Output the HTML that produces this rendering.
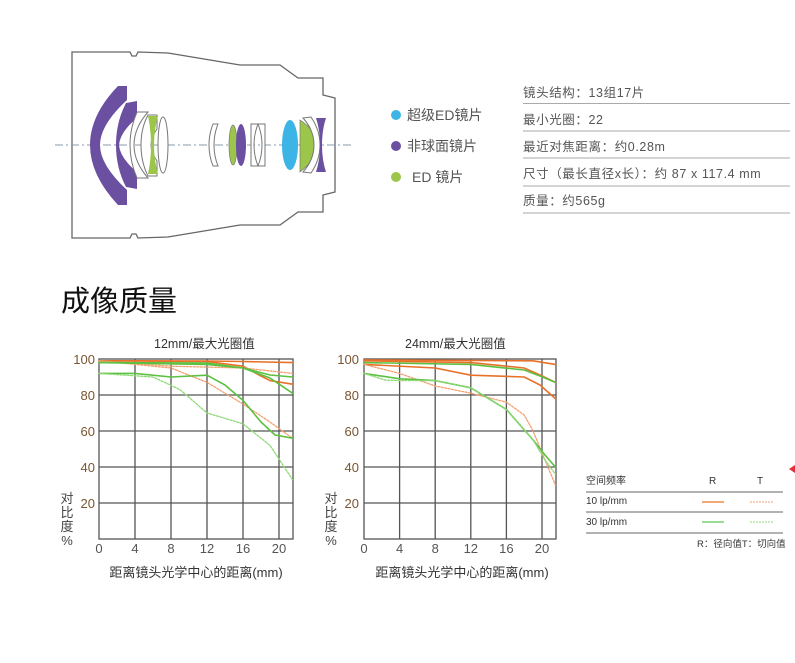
<!DOCTYPE html>
<html><head><meta charset="utf-8"><style>
html,body{margin:0;padding:0;background:#fff;}
svg{display:block;font-family:"Liberation Sans","Noto Sans CJK SC",sans-serif;}
</style></head><body>
<svg width="795" height="663" viewBox="0 0 795 663" xmlns="http://www.w3.org/2000/svg">
<rect width="795" height="663" fill="#fff"/>
<!-- lens body -->
<path d="M72,52 L130,52 L132,56 L136,56 L138,52 L168,53 L240,65 L280,65 L298,78 L323,78 L323,95 L335,98 L335,192 L323,195 L323,212 L298,212 L280,225 L240,225 L168,237 L138,238 L136,234 L132,234 L130,238 L72,238 Z" fill="#fff" stroke="#666" stroke-width="1.3"/>
<line x1="55" y1="145" x2="352" y2="145" stroke="#8a9aa8" stroke-width="1" stroke-dasharray="8,3,2,3"/>
<!-- front purple meniscus -->
<path d="M118,86 L127,86 L127,100 Q100,125 100,145 Q100,165 127,190 L127,205 L118,205 Q90,175 90,145 Q90,115 118,86 Z" fill="#6b4fa0"/>
<path d="M126,103 L137,101 L137,118 Q120,132 119,145 Q120,158 137,172 L137,189 L126,187 Q116,168 116,145 Q116,122 126,103 Z" fill="#6b4fa0"/>
<path d="M137,112 L148,112 Q134,128 134,145 Q134,162 148,178 L137,178 Q130,162 130,145 Q130,128 137,112 Z" fill="#fff" stroke="#777" stroke-width="1"/>
<path d="M148,115 L157,115 L157,129 Q151,137 151,145 Q151,153 157,161 L157,176 L148,176 Q141,162 141,145 Q141,128 148,115 Z" fill="#fff" stroke="#777" stroke-width="1"/>
<path d="M148,116 L158,116 Q154,130 154,145 Q154,160 158,174 L148,174 Q151,160 151,145 Q151,130 148,116 Z" fill="#9cc64a"/>
<ellipse cx="163" cy="145" rx="5" ry="28" fill="#fff" stroke="#777" stroke-width="1"/>
<!-- middle group -->
<path d="M213,124 L218,124 Q214,134 214,145 Q214,156 218,166 L213,166 Q209,156 209,145 Q209,134 213,124 Z" fill="#fff" stroke="#777" stroke-width="1"/>
<ellipse cx="233" cy="145" rx="4" ry="20" fill="#9cc64a" stroke="#777" stroke-width="0.7"/>
<ellipse cx="241" cy="145" rx="5" ry="21" fill="#6b4fa0"/>
<path d="M251,124 L258,124 Q254,134 254,145 Q254,156 258,166 L251,166 Z M258,124 L265,124 L265,166 L258,166 Q262,156 262,145 Q262,134 258,124 Z" fill="#fff" stroke="#777" stroke-width="1"/>
<!-- rear group -->
<ellipse cx="290" cy="145" rx="8" ry="25" fill="#3cb4e6"/>
<path d="M300,120 Q316,130 316,145 Q316,160 300,172 Z" fill="#9cc64a" stroke="#777" stroke-width="0.7"/>
<path d="M303,118 L311,117 Q320,130 320,145 Q320,160 311,173 L303,172 Q314,160 314,145 Q314,130 303,118 Z" fill="#fff" stroke="#777" stroke-width="1"/>
<path d="M316,118 L326,118 Q322,130 322,145 Q322,160 326,172 L316,172 Q320,160 320,145 Q320,130 316,118 Z" fill="#6b4fa0"/>
<!-- legend -->
<circle cx="396" cy="115" r="5" fill="#3cb4e6"/>
<circle cx="396" cy="146" r="5" fill="#6b4fa0"/>
<circle cx="396" cy="177" r="5" fill="#9cc64a"/>
<g font-size="14" fill="#555">
<text x="407" y="120">超级ED镜片</text>
<text x="407" y="151">非球面镜片</text>
<text x="412" y="182">ED 镜片</text>
</g>
<!-- specs -->
<g font-size="12.5" fill="#555" letter-spacing="0.6">
<text x="523" y="97">镜头结构：13组17片</text>
<text x="523" y="124">最小光圈：22</text>
<text x="523" y="151">最近对焦距离：约0.28m</text>
<text x="523" y="178">尺寸（最长直径x长）：约 87 x 117.4 mm</text>
<text x="523" y="205">质量：约565g</text>
</g>
<g stroke="#aaa" stroke-width="1">
<line x1="523" y1="103.5" x2="790" y2="103.5"/><line x1="523" y1="131" x2="790" y2="131"/>
<line x1="523" y1="158" x2="790" y2="158"/><line x1="523" y1="186" x2="790" y2="186"/>
<line x1="523" y1="213" x2="790" y2="213"/>
</g>
<text x="61" y="311" font-size="29" fill="#111">成像质量</text>
<!-- chart 1 -->
<text x="154" y="348" font-size="12.5" fill="#333">12mm/最大光圈值</text>
<g stroke="#555" stroke-width="1.3" fill="none">
<rect x="99" y="359" width="194" height="180"/>
<line x1="135" y1="359" x2="135" y2="539"/><line x1="171" y1="359" x2="171" y2="539"/><line x1="207" y1="359" x2="207" y2="539"/><line x1="243" y1="359" x2="243" y2="539"/><line x1="279" y1="359" x2="279" y2="539"/>
<line x1="99" y1="395" x2="293" y2="395"/><line x1="99" y1="431" x2="293" y2="431"/><line x1="99" y1="467" x2="293" y2="467"/><line x1="99" y1="503" x2="293" y2="503"/>
</g>
<g font-size="13" fill="#7a5530" text-anchor="end">
<text x="95" y="364">100</text><text x="95" y="400">80</text><text x="95" y="436">60</text><text x="95" y="472">40</text><text x="95" y="508">20</text>
</g>
<g font-size="13" fill="#555" text-anchor="middle">
<text x="99" y="553">0</text><text x="135" y="553">4</text><text x="171" y="553">8</text><text x="207" y="553">12</text><text x="243" y="553">16</text><text x="279" y="553">20</text>
</g>
<g font-size="13" fill="#444" text-anchor="middle">
<text x="67" y="503">对</text><text x="67" y="517">比</text><text x="67" y="531">度</text><text x="67" y="545">%</text>
</g>
<text x="196" y="577" font-size="13" fill="#333" text-anchor="middle">距离镜头光学中心的距离(mm)</text>
<g fill="none" stroke-linejoin="round" stroke-linecap="round">
<polyline stroke="#e8712a" stroke-width="1.6" points="99,360.8 207,361 243,361.5 292.5,362.6"/>
<polyline stroke="#e8712a" stroke-width="1.6" points="99,360.8 207,361.5 243,366.2 261,376 270,380.6 292.5,384.2"/>
<polyline stroke="#f2a070" stroke-width="1.3" stroke-dasharray="2,1.5" points="99,360.8 171,366.2 243,368 292.5,373.4"/>
<polyline stroke="#f2a070" stroke-width="1.3" stroke-dasharray="2,1.5" points="99,360.8 171,368 207,382.4 243,404 270,422 292.5,438.2"/>
<polyline stroke="#5cc040" stroke-width="1.6" points="99,362.6 207,364.4 243,368 270,375 292.5,377"/>
<polyline stroke="#5cc040" stroke-width="1.6" points="99,362.6 207,363 243,368 270,378 292.5,393.2"/>
<polyline stroke="#5cc040" stroke-width="1.6" points="99,373.4 135,373.4 171,377 207,375.2 225,385 243,400.4 261,422 275,435 292.5,438.2"/>
<polyline stroke="#8ed878" stroke-width="1.3" stroke-dasharray="2,1.5" points="99,373.4 153,377 180,389.6 207,413 243,423.8 270,445.4 292.5,479.6"/>
</g>
<!-- chart 2 -->
<text x="405" y="348" font-size="12.5" fill="#333">24mm/最大光圈值</text>
<g stroke="#555" stroke-width="1.3" fill="none">
<rect x="364" y="359" width="192" height="180"/>
<line x1="399.6" y1="359" x2="399.6" y2="539"/><line x1="435.2" y1="359" x2="435.2" y2="539"/><line x1="470.8" y1="359" x2="470.8" y2="539"/><line x1="506.4" y1="359" x2="506.4" y2="539"/><line x1="542" y1="359" x2="542" y2="539"/>
<line x1="364" y1="395" x2="556" y2="395"/><line x1="364" y1="431" x2="556" y2="431"/><line x1="364" y1="467" x2="556" y2="467"/><line x1="364" y1="503" x2="556" y2="503"/>
</g>
<g font-size="13" fill="#7a5530" text-anchor="end">
<text x="359" y="364">100</text><text x="359" y="400">80</text><text x="359" y="436">60</text><text x="359" y="472">40</text><text x="359" y="508">20</text>
</g>
<g font-size="13" fill="#555" text-anchor="middle">
<text x="364" y="553">0</text><text x="399.6" y="553">4</text><text x="435.2" y="553">8</text><text x="470.8" y="553">12</text><text x="506.4" y="553">16</text><text x="542" y="553">20</text>
</g>
<g font-size="13" fill="#444" text-anchor="middle">
<text x="331" y="503">对</text><text x="331" y="517">比</text><text x="331" y="531">度</text><text x="331" y="545">%</text>
</g>
<text x="462" y="577" font-size="13" fill="#333" text-anchor="middle">距离镜头光学中心的距离(mm)</text>
<g fill="none" stroke-linejoin="round" stroke-linecap="round">
<polyline stroke="#e8712a" stroke-width="1.6" points="364,359.9 533,360.8 555.4,364.4"/>
<polyline stroke="#e8712a" stroke-width="1.6" points="364,364.4 435.2,368 470.8,375.2 524.2,377 540,385 555.4,398.6"/>
<polyline stroke="#e8712a" stroke-width="1.6" points="364,360.8 470.8,362.6 524.2,368 540,375 555.4,382.4"/>
<polyline stroke="#5cc040" stroke-width="1.6" points="364,362.6 470.8,364.4 524.2,370 540,376 555.4,382.4"/>
<polyline stroke="#f2a070" stroke-width="1.3" stroke-dasharray="2,1.5" points="364,364.4 399.6,373.4 435.2,386 470.8,393.2 506.4,402.2 524.2,415 533.1,431 545,460 555.4,485"/>
<polyline stroke="#5cc040" stroke-width="1.6" points="364,373.4 399.6,378.8 435.2,380.6 470.8,387.8 506.4,409.4 533.1,440 545,455 555.4,467"/>
<polyline stroke="#8ed878" stroke-width="1.3" stroke-dasharray="2,1.5" points="364,373.4 385,380 399.6,380.6 435.2,380.6 470.8,387.8 506.4,409.4 533.1,440 545,460 555.4,474.2"/>
</g>
<!-- MTF legend -->
<g font-size="10" fill="#333">
<text x="586" y="484">空间频率</text>
<text x="709" y="484">R</text>
<text x="757" y="484">T</text>
<text x="586" y="504">10 lp/mm</text>
<text x="586" y="525">30 lp/mm</text>
<text x="697" y="547" font-size="9.5">R：径向值T：切向值</text>
</g>
<g stroke="#666" stroke-width="1">
<line x1="586" y1="492" x2="783" y2="492"/><line x1="586" y1="512" x2="783" y2="512"/><line x1="586" y1="533" x2="783" y2="533"/>
</g>
<line x1="702" y1="502" x2="724" y2="502" stroke="#f08a4a" stroke-width="1.5"/>
<line x1="750" y1="502" x2="773" y2="502" stroke="#f5b090" stroke-width="1.2" stroke-dasharray="2,1"/>
<line x1="702" y1="522" x2="724" y2="522" stroke="#78d070" stroke-width="1.5"/>
<line x1="750" y1="522" x2="773" y2="522" stroke="#a8e098" stroke-width="1.2" stroke-dasharray="2,1"/>
<polygon points="789,469 795,465 795,473" fill="#e0303a"/>
</svg>
</body></html>
